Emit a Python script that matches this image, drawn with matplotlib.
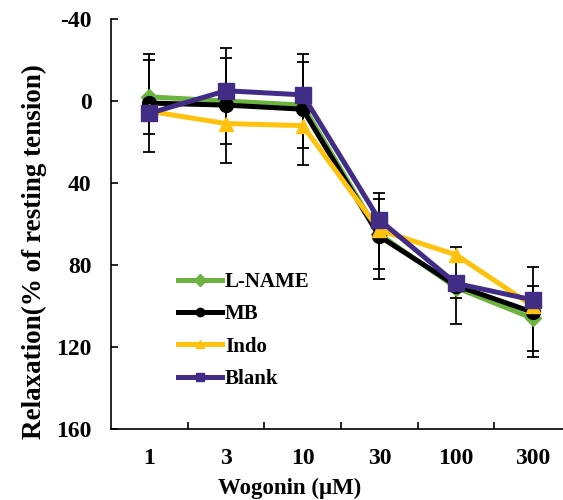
import matplotlib
matplotlib.use("Agg")
import matplotlib.pyplot as plt
import numpy as np

# concentrations and responses
doses = ["1", "3", "10", "30", "100", "300"]
lname = [-2, 0, 2, 65, 91, 106]
mb = [1, 2, 4, 66, 90, 103]
indo = [5, 11, 12, 63, 75, 100]
blank = [6, -5, -3, 58, 89, 97]
lname_err = [18, 21, 21, 17, 5, 16]
mb_err = [24, 28, 27, 21, 19, 22]

plt.rcParams['font.family'] = ['Liberation Serif', 'DejaVu Serif']
plt.rcParams['font.weight'] = 'bold'

fig = plt.figure(figsize=(5.63, 5.0), dpi=100)
ax = fig.add_axes([111 / 563, 1 - 429 / 500, 460 / 563, 410 / 500])

x = np.arange(len(doses))

# error bars sit behind the lines
ax.errorbar(x, lname, yerr=lname_err, fmt='none', ecolor='black',
            elinewidth=1.3, capsize=4, capthick=1.3, zorder=1)
ax.errorbar(x, mb, yerr=mb_err, fmt='none', ecolor='black',
            elinewidth=1.3, capsize=4, capthick=1.3, zorder=1)

ax.plot(x, lname, color='#6cb33f', marker='D', markersize=8, lw=3.6,
        label='L-NAME', zorder=2)
ax.plot(x, mb, color='black', marker='o', markersize=10, lw=3.6,
        label='MB', zorder=3)
ax.plot(x, indo, color='#ffc20e', marker='^', markersize=10, lw=3.6,
        label='Indo', zorder=4)
ax.plot(x, blank, color='#412c86', marker='s', markersize=11, lw=3.6,
        label='Blank', zorder=5)

ax.set_xlim(-0.5, len(doses) - 0.5)
ax.set_ylim(160, -40)
ax.set_yticks([-40, 0, 40, 80, 120, 160])
ax.set_yticklabels(['-40', '0', '40', '80', '120', '160'])
ax.set_xticks(x)
ax.set_xticklabels(doses)
ax.set_xticks(np.arange(len(doses)) + 0.5, minor=True)
ax.tick_params(axis='x', which='major', length=0, pad=14, labelsize=17)
ax.tick_params(axis='x', which='minor', direction='in', length=5, width=1.2)
ax.tick_params(axis='y', direction='in', length=5, width=1.2, pad=14,
               labelsize=17)

for side in ['top', 'right']:
    ax.spines[side].set_visible(False)
for side in ['left', 'bottom']:
    ax.spines[side].set_linewidth(1.2)

fig.text(290 / 563, 1 - 488 / 500, 'Wogonin (μM)', ha='center', va='center',
         fontsize=16.5, fontweight='bold')
fig.text(34 / 563, 1 - 252 / 500, 'Relaxation(% of resting tension)',
         rotation=90, ha='center', va='center', fontsize=19.5,
         fontweight='bold')

leg = ax.legend(loc='upper left', bbox_to_anchor=(178 / 563, 1 - 272 / 500),
                bbox_transform=fig.transFigure, frameon=False, borderpad=0,
                borderaxespad=0, handlelength=2.1, handletextpad=0.15,
                labelspacing=0.59, prop={'size': 15, 'weight': 'bold'})
for h in leg.legend_handles:
    h.set_markersize(6)

fig.savefig('out.png', dpi=100)
